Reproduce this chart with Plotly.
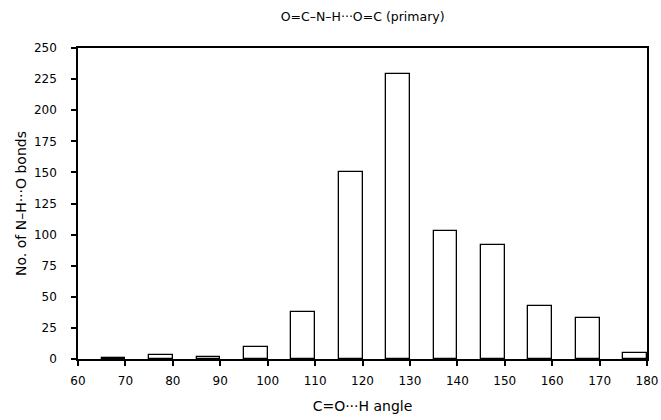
import plotly.graph_objects as go

bin_start = [65, 75, 85, 95, 105, 115, 125, 135, 145, 155, 165, 175]
counts = [1, 3, 2, 10, 38, 150, 229, 103, 92, 43, 33, 5]
bin_width = 5
x_ticks = list(range(60, 181, 10))
y_ticks = list(range(0, 251, 25))

title_text = "O=C\u2013N\u2013H\u00b7\u00b7\u00b7O=C (primary)"
x_title = "C=O\u00b7\u00b7\u00b7H angle"
y_title = "No. of N\u2013H\u00b7\u00b7\u00b7O bonds"

font_family = "DejaVu Sans, Liberation Sans, sans-serif"

fig = go.Figure(
    go.Bar(
        x=bin_start,
        y=counts,
        width=[bin_width] * len(bin_start),
        offset=0,
        marker=dict(color="white", line=dict(color="black", width=1.3)),
        showlegend=False,
    )
)

fig.update_layout(
    width=661,
    height=420,
    margin=dict(l=78, r=14, t=48, b=61, autoexpand=False),
    paper_bgcolor="white",
    plot_bgcolor="white",
    font=dict(family=font_family, size=12, color="black"),
    title=dict(
        text=title_text,
        x=0.5486,
        xanchor="center",
        y=1 - 17 / 420,
        yanchor="middle",
        font=dict(size=12.5, color="black"),
    ),
    bargap=0,
)

fig.update_xaxes(
    range=[60, 180],
    tickvals=x_ticks,
    ticktext=[str(v) for v in x_ticks],
    ticks="outside",
    ticklen=5,
    tickwidth=1.5,
    tickcolor="black",
    ticklabelstandoff=5,
    showline=True,
    linecolor="black",
    linewidth=1.5,
    mirror=True,
    showgrid=False,
    zeroline=False,
    automargin=False,
    title=dict(text=x_title, font=dict(size=14), standoff=14),
    tickfont=dict(size=12),
)
fig.update_yaxes(
    range=[0, 250],
    tickvals=y_ticks,
    ticks="outside",
    ticklen=5,
    tickwidth=1.5,
    tickcolor="black",
    ticklabelstandoff=12,
    showline=True,
    linecolor="black",
    linewidth=1.5,
    mirror=True,
    showgrid=False,
    zeroline=False,
    automargin=False,
    title=dict(text=y_title, font=dict(size=14), standoff=4),
    tickfont=dict(size=12),
)

fig.write_html("out.html")
